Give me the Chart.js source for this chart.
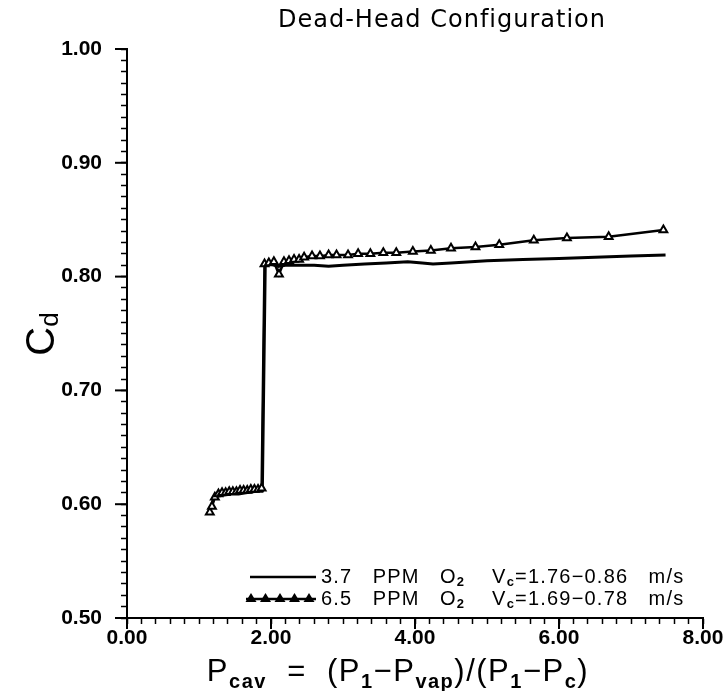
<!DOCTYPE html>
<html lang="en">
<head>
<meta charset="UTF-8">
<title>Dead-Head Configuration</title>
<script src="https://cdn.jsdelivr.net/npm/chart.js"></script>
<style>
  html, body { margin: 0; padding: 0; background: #fff; }
  canvas { display: block; }
</style>
</head>
<body>
<canvas id="cdChart" width="724" height="691"></canvas>
<script>
// 3.7 PPM O2 run, solid line
const lowO2X = [1.15, 1.20, 1.25, 1.35, 1.45, 1.55, 1.65, 1.75, 1.85, 1.88,
                1.92, 2.00, 2.10, 2.20, 2.40, 2.60, 2.80, 3.00, 3.30, 3.60,
                3.90, 4.10, 4.25, 4.50, 5.00, 5.50, 6.00, 6.50, 7.00, 7.48];
const lowO2Y = [0.595, 0.604, 0.607, 0.608, 0.609, 0.609, 0.610, 0.611, 0.612, 0.612,
                0.810, 0.811, 0.809, 0.810, 0.810, 0.810, 0.809, 0.810, 0.811, 0.812,
                0.813, 0.812, 0.811, 0.812, 0.814, 0.815, 0.816, 0.817, 0.818, 0.819];

// 6.5 PPM O2 run, open triangles
const highO2X = [1.15, 1.18, 1.22, 1.27, 1.32, 1.37, 1.42, 1.47, 1.52, 1.57,
                 1.62, 1.67, 1.72, 1.77, 1.82, 1.87, 1.91, 1.97, 2.04, 2.11,
                 2.18, 2.25, 2.32, 2.39, 2.46, 2.57, 2.68, 2.80, 2.91, 3.07,
                 3.21, 3.38, 3.56, 3.74, 3.97, 4.22, 4.50, 4.84, 5.17, 5.65,
                 6.11, 6.69, 7.45];
const highO2Y = [0.593, 0.598, 0.606, 0.609, 0.610, 0.610, 0.611, 0.611, 0.611, 0.612,
                 0.612, 0.612, 0.613, 0.613, 0.613, 0.614, 0.811, 0.812, 0.813, 0.802,
                 0.813, 0.814, 0.815, 0.815, 0.817, 0.818, 0.818, 0.819, 0.819, 0.819,
                 0.820, 0.820, 0.821, 0.821, 0.822, 0.823, 0.825, 0.826, 0.828, 0.832,
                 0.834, 0.835, 0.841];

const xMajor = [0, 2, 4, 6, 8];
const yMajor = [0.5, 0.6, 0.7, 0.8, 0.9, 1.0];

const chartTitle = 'Dead-Head Configuration';
const xTitle = [['P'], ['cav', 1], ['  =  (P'], ['1', 1], ['\u2212P'], ['vap', 1], [')/(P'], ['1', 1], ['\u2212P'], ['c', 1], [')']];
const yTitle = [['C'], ['d', 1]];
const legendRows = [
  [['3.7   PPM   O'], ['2', 1], ['    V'], ['c', 1], ['=1.76\u22120.86   m/s']],
  [['6.5   PPM   O'], ['2', 1], ['    V'], ['c', 1], ['=1.69\u22120.78   m/s']]
];

const FONT = '"Liberation Sans", Arial, sans-serif';

function richWidth(ctx, segs, base, sub) {
  let w = 0;
  segs.forEach(s => { ctx.font = s[1] ? sub : base; w += ctx.measureText(s[0]).width; });
  return w;
}
function drawRich(ctx, segs, x, y, base, sub, shift) {
  segs.forEach(s => {
    ctx.font = s[1] ? sub : base;
    ctx.fillText(s[0], x, y + (s[1] ? shift : 0));
    x += ctx.measureText(s[0]).width;
  });
  return x;
}

const paperPlugin = {
  id: 'paper',
  afterDraw(chart) {
    const ctx = chart.ctx;
    const xs = chart.scales.x, ys = chart.scales.y;
    ctx.save();
    ctx.strokeStyle = '#000';
    ctx.fillStyle = '#000';

    // longer major ticks
    ctx.lineWidth = 2;
    xMajor.forEach(v => {
      const px = xs.getPixelForValue(v);
      ctx.beginPath(); ctx.moveTo(px, xs.top); ctx.lineTo(px, xs.top + 11); ctx.stroke();
    });
    yMajor.forEach(v => {
      const py = ys.getPixelForValue(v);
      ctx.beginPath(); ctx.moveTo(ys.right, py); ctx.lineTo(ys.right - 12, py); ctx.stroke();
    });

    // title
    ctx.textBaseline = 'alphabetic';
    ctx.textAlign = 'center';
    ctx.letterSpacing = '1px';
    ctx.font = '24px "DejaVu Sans", sans-serif';
    ctx.fillText(chartTitle, 442, 27);

    // x axis title
    ctx.textAlign = 'left';
    ctx.letterSpacing = '1.5px';
    let base = '31px ' + FONT, sub = 'bold 20px ' + FONT;
    let w = richWidth(ctx, xTitle, base, sub);
    drawRich(ctx, xTitle, 398 - w / 2, 681, base, sub, 7);

    // y axis title, rotated
    ctx.letterSpacing = '0px';
    ctx.save();
    ctx.translate(54, 334);
    ctx.rotate(-Math.PI / 2);
    base = '40px ' + FONT; sub = '26px ' + FONT;
    w = richWidth(ctx, yTitle, base, sub);
    drawRich(ctx, yTitle, -w / 2, 0, base, sub, 4);
    ctx.restore();

    // legend
    ctx.letterSpacing = '1.2px';
    ctx.textBaseline = 'middle';
    base = '20px ' + FONT; sub = 'bold 13px ' + FONT;
    const rowY = [577, 599];
    ctx.lineWidth = 2.5;
    ctx.beginPath(); ctx.moveTo(250, rowY[0]); ctx.lineTo(316, rowY[0]); ctx.stroke();
    ctx.beginPath(); ctx.moveTo(246, rowY[1]); ctx.lineTo(316, rowY[1]); ctx.stroke();
    for (let i = 0; i < 5; i++) {
      const cx = 251 + i * 14.5;
      ctx.beginPath();
      ctx.moveTo(cx, rowY[1] - 6);
      ctx.lineTo(cx + 5.5, rowY[1] + 3);
      ctx.lineTo(cx - 5.5, rowY[1] + 3);
      ctx.closePath();
      ctx.fill();
    }
    legendRows.forEach((segs, i) => drawRich(ctx, segs, 321, rowY[i], base, sub, 5));
    ctx.restore();
  }
};

const isMultiple = (v, step) => Math.abs(v / step - Math.round(v / step)) < 1e-6;

new Chart(document.getElementById('cdChart'), {
  type: 'scatter',
  data: {
    datasets: [
      {
        label: '6.5 PPM O2',
        data: highO2X.map((x, i) => ({ x: x, y: highO2Y[i] })),
        showLine: true,
        borderColor: '#000',
        borderWidth: 2.5,
        pointStyle: 'triangle',
        pointRadius: 4.5,
        pointBorderWidth: 2,
        pointBorderColor: '#000',
        pointBackgroundColor: '#fff',
        order: 0
      },
      {
        label: '3.7 PPM O2',
        data: lowO2X.map((x, i) => ({ x: x, y: lowO2Y[i] })),
        showLine: true,
        borderColor: '#000',
        borderWidth: 3,
        pointRadius: 0,
        order: 1
      }
    ]
  },
  options: {
    responsive: false,
    animation: false,
    layout: { padding: { top: 49, right: 21, bottom: 0, left: 0 } },
    plugins: {
      legend: { display: false },
      title: { display: false },
      tooltip: { enabled: false }
    },
    scales: {
      x: {
        type: 'linear',
        min: 0, max: 8,
        border: { color: '#000', width: 2 },
        grid: { drawOnChartArea: false, tickLength: 6, tickColor: '#000', tickWidth: 1.5 },
        ticks: {
          stepSize: 0.2,
          autoSkip: false,
          maxRotation: 0,
          padding: 2,
          color: '#000',
          font: { family: FONT, size: 21, weight: 'bold' },
          callback: v => isMultiple(v, 2) ? v.toFixed(2) : ''
        },
        afterFit: s => { s.height = 73; s.paddingLeft = 0; s.paddingRight = 0; }
      },
      y: {
        type: 'linear',
        min: 0.5, max: 1.0,
        border: { color: '#000', width: 2 },
        grid: { drawOnChartArea: false, tickLength: 6, tickColor: '#000', tickWidth: 1.5 },
        ticks: {
          stepSize: 0.01,
          autoSkip: false,
          padding: 19,
          color: '#000',
          font: { family: FONT, size: 21, weight: 'bold' },
          callback: v => isMultiple(v, 0.1) ? v.toFixed(2) : ''
        },
        afterFit: s => { s.width = 127; }
      }
    }
  },
  plugins: [paperPlugin]
});
</script>
</body>
</html>
